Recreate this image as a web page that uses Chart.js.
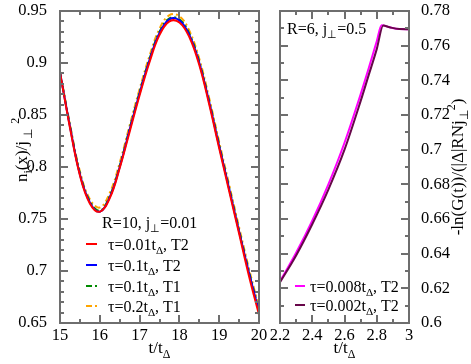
<!DOCTYPE html>
<html>
<head>
<meta charset="UTF-8">
<title>n_i(x) and -ln G(t)</title>
<script src="https://cdn.jsdelivr.net/npm/chart.js@4.4.0/dist/chart.umd.min.js"></script>
<style>
    html, body { margin: 0; padding: 0; background: #fff; }
    #wrap { position: relative; width: 471px; height: 364px; }
    #left { position: absolute; left: 0; top: 0; }
    #right { position: absolute; left: 270px; top: 0; }
</style>
</head>
<body>
<div id="wrap">
    <canvas id="left" width="270" height="364"></canvas>
    <canvas id="right" width="201" height="364"></canvas>
</div>
<script>
// left panel, R=10, j=0.01
var tLeft = [15, 15.25, 15.5, 15.75, 16, 16.25, 16.5, 16.75, 17, 17.25, 17.5, 17.75, 18, 18.25, 18.5, 18.75, 19, 19.25, 19.5, 19.75, 20];
var nTau001T2 = [0.891, 0.838, 0.792, 0.765, 0.757, 0.770, 0.799, 0.834, 0.869, 0.901, 0.927, 0.940, 0.939, 0.925, 0.898, 0.860, 0.818, 0.777, 0.736, 0.695, 0.658];
var nTau01T2  = [0.891, 0.839, 0.793, 0.766, 0.757, 0.771, 0.800, 0.836, 0.871, 0.903, 0.929, 0.942, 0.941, 0.927, 0.900, 0.862, 0.820, 0.779, 0.738, 0.698, 0.661];
var nTau01T1  = [0.891, 0.840, 0.794, 0.767, 0.758, 0.772, 0.801, 0.837, 0.872, 0.904, 0.930, 0.943, 0.942, 0.928, 0.901, 0.863, 0.821, 0.780, 0.739, 0.699, 0.662];
var nTau02T1  = [0.892, 0.841, 0.796, 0.769, 0.761, 0.775, 0.804, 0.840, 0.875, 0.907, 0.933, 0.946, 0.945, 0.931, 0.904, 0.866, 0.824, 0.783, 0.742, 0.702, 0.665];

// right panel, R=6, j=0.5
var tRight008 = [2.2, 2.3, 2.4, 2.5, 2.6, 2.7, 2.75, 2.8, 2.83, 2.88, 2.94, 3.0];
var gTau0008  = [0.624, 0.6405, 0.659, 0.680, 0.704, 0.732, 0.747, 0.7625, 0.7718, 0.7706, 0.7696, 0.7695];
var tRight002 = [2.2, 2.3, 2.4, 2.5, 2.6, 2.7, 2.75, 2.8, 2.84, 2.88, 2.94, 3.0];
var gTau0002  = [0.6235, 0.639, 0.657, 0.677, 0.700, 0.728, 0.743, 0.758, 0.7716, 0.7706, 0.7696, 0.7695];

var SERIF = "'Liberation Serif', 'Times New Roman', serif";
var TEXT_SIZE = 17;
var LEG_SIZE = 16;

Chart.defaults.font.family = SERIF;
Chart.defaults.font.size = 16.5;
Chart.defaults.color = '#000';

function pts(xs, ys) {
    return xs.map(function (x, i) { return { x: x, y: ys[i] }; });
}
function fmt(v) { return String(Math.round(v * 1000) / 1000); }

// text pieces: 0 normal, 1 subscript, 2 superscript
function partFont(kind, size) { return (kind ? size * 0.7 : size) + 'px ' + SERIF; }
function richWidth(ctx, parts, size) {
    var w = 0;
    parts.forEach(function (p) {
        ctx.font = partFont(p[1], size);
        w += ctx.measureText(p[0]).width;
    });
    return w;
}
function drawRich(ctx, parts, x, y, size) {
    var cx = x;
    ctx.textAlign = 'left';
    ctx.textBaseline = 'alphabetic';
    ctx.fillStyle = '#000';
    parts.forEach(function (p) {
        ctx.font = partFont(p[1], size);
        var dy = p[1] === 1 ? size * 0.3 : (p[1] === 2 ? -size * 0.45 : 0);
        ctx.fillText(p[0], cx, y + dy);
        cx += ctx.measureText(p[0]).width;
    });
}
function drawRichCentered(ctx, parts, cx, y, size) {
    drawRich(ctx, parts, cx - richWidth(ctx, parts, size) / 2, y, size);
}
function drawRichVertical(ctx, parts, x, cy, size) {
    ctx.save();
    ctx.translate(x, cy);
    ctx.rotate(-Math.PI / 2);
    drawRich(ctx, parts, -richWidth(ctx, parts, size) / 2, 0, size);
    ctx.restore();
}
function legendEntry(ctx, ds, x0, x1, y, textX, parts) {
    ctx.save();
    ctx.strokeStyle = ds.borderColor;
    ctx.lineWidth = ds.borderWidth;
    ctx.setLineDash(ds.borderDash || []);
    ctx.beginPath();
    ctx.moveTo(x0, y);
    ctx.lineTo(x1, y);
    ctx.stroke();
    ctx.restore();
    drawRich(ctx, parts, textX, y + 5.5, LEG_SIZE);
}

// frame with inward ticks on all four sides
var framePlugin = {
    id: 'frame',
    afterDraw: function (chart, args, opts) {
        var ctx = chart.ctx, a = chart.chartArea;
        var xs = chart.scales.x, ys = chart.scales.y;
        ctx.save();
        ctx.strokeStyle = '#6e6e6e';
        ctx.lineWidth = 2;
        ctx.beginPath();
        function xTick(v, len) {
            var p = Math.round(xs.getPixelForValue(v));
            ctx.moveTo(p, a.bottom); ctx.lineTo(p, a.bottom - len);
            ctx.moveTo(p, a.top); ctx.lineTo(p, a.top + len);
        }
        function yTick(v, len) {
            var p = Math.round(ys.getPixelForValue(v));
            ctx.moveTo(a.left, p); ctx.lineTo(a.left + len, p);
            ctx.moveTo(a.right, p); ctx.lineTo(a.right - len, p);
        }
        var i, n;
        n = Math.round((xs.max - xs.min) / opts.xMinor);
        for (i = 0; i <= n; i++) xTick(xs.min + i * opts.xMinor, 4);
        n = Math.round((ys.max - ys.min) / opts.yMinor);
        for (i = 0; i <= n; i++) yTick(ys.min + i * opts.yMinor, 4);
        xs.ticks.forEach(function (t) { xTick(t.value, 8); });
        ys.ticks.forEach(function (t) { yTick(t.value, 8); });
        ctx.stroke();
        ctx.strokeRect(a.left, a.top, a.right - a.left, a.bottom - a.top);
        ctx.restore();
    }
};

function fixW(w) { return function (s) { s.width = w; s.paddingTop = 0; s.paddingBottom = 0; }; }
function fixH(h) { return function (s) { s.height = h; s.paddingLeft = 0; s.paddingRight = 0; }; }

function lineSet(xs, ys, color, dash) {
    return {
        data: pts(xs, ys),
        borderColor: color,
        borderWidth: 2,
        borderDash: dash,
        pointRadius: 0,
        tension: 0.4,
        fill: false
    };
}

var leftSets = [
    lineSet(tLeft, nTau001T2, '#ff0000', []),
    lineSet(tLeft, nTau01T2, '#0000ff', []),
    lineSet(tLeft, nTau01T1, '#008b00', [6, 3, 2, 3]),
    lineSet(tLeft, nTau02T1, '#ffa500', [6, 3, 2, 3])
];

new Chart(document.getElementById('left'), {
    type: 'line',
    data: { datasets: leftSets },
    options: {
        responsive: false,
        animation: false,
        devicePixelRatio: 1,
        layout: { padding: { left: 0, top: 11, right: 11, bottom: 0 } },
        plugins: {
            legend: { display: false },
            tooltip: { enabled: false },
            frame: { xMinor: 0.5, yMinor: 0.01 }
        },
        scales: {
            x: {
                type: 'linear', min: 15, max: 20,
                grid: { display: false }, border: { display: false },
                ticks: { stepSize: 1, padding: -5, maxRotation: 0, autoSkip: false, callback: fmt },
                afterFit: fixH(41)
            },
            y: {
                type: 'linear', min: 0.65, max: 0.95,
                grid: { display: false }, border: { display: false },
                ticks: { stepSize: 0.05, padding: 5, autoSkip: false, callback: fmt },
                afterFit: fixW(60)
            }
        }
    },
    plugins: [framePlugin, {
        id: 'leftText',
        afterDraw: function (chart) {
            var ctx = chart.ctx;
            drawRichCentered(ctx, [['t/t', 0], ['\u0394', 1]], 159.5, 353, TEXT_SIZE);
            drawRichVertical(ctx, [['n', 0], ['i', 1], ['(x)/j', 0], ['\u2009\u22A5', 1], ['\u2009\u20092', 2]], 27, 150, TEXT_SIZE);
            drawRich(ctx, [['R=10, j', 0], ['\u22A5', 1], ['=0.01', 0]], 102, 227.5, LEG_SIZE);
            var ds = chart.data.datasets;
            legendEntry(ctx, ds[0], 86, 97, 244, 108, [['\u03C4=0.01t', 0], ['\u0394', 1], [', T2', 0]]);
            legendEntry(ctx, ds[1], 86, 97, 265, 108, [['\u03C4=0.1t', 0], ['\u0394', 1], [', T2', 0]]);
            legendEntry(ctx, ds[2], 86, 97, 286, 108, [['\u03C4=0.1t', 0], ['\u0394', 1], [', T1', 0]]);
            legendEntry(ctx, ds[3], 86, 97, 306, 108, [['\u03C4=0.2t', 0], ['\u0394', 1], [', T1', 0]]);
        }
    }]
});

var rightSets = [
    lineSet(tRight002, gTau0002, '#67074a', []),
    lineSet(tRight008, gTau0008, '#ff00ff', [])
];
rightSets.forEach(function (d) { d.tension = 0; d.cubicInterpolationMode = 'monotone'; });

new Chart(document.getElementById('right'), {
    type: 'line',
    data: { datasets: rightSets },
    options: {
        responsive: false,
        animation: false,
        devicePixelRatio: 1,
        layout: { padding: { left: 10, top: 11, right: 0, bottom: 0 } },
        plugins: {
            legend: { display: false },
            tooltip: { enabled: false },
            frame: { xMinor: 0.1, yMinor: 0.01 }
        },
        scales: {
            x: {
                type: 'linear', min: 2.2, max: 3,
                grid: { display: false }, border: { display: false },
                ticks: { stepSize: 0.2, padding: -5, maxRotation: 0, autoSkip: false, callback: fmt },
                afterFit: fixH(41)
            },
            y: {
                type: 'linear', position: 'right', min: 0.6, max: 0.78,
                grid: { display: false }, border: { display: false },
                ticks: { stepSize: 0.02, padding: 4, autoSkip: false, callback: fmt },
                afterFit: fixW(62)
            }
        }
    },
    plugins: [framePlugin, {
        id: 'rightText',
        afterDraw: function (chart) {
            var ctx = chart.ctx;
            drawRichCentered(ctx, [['t/t', 0], ['\u0394', 1]], 74.5, 353, TEXT_SIZE);
            drawRichVertical(ctx, [['-ln(G(t))/(|\u0394|RNj', 0], ['\u22A5', 1], ['2', 2], [')', 0]], 193, 167, TEXT_SIZE);
            drawRich(ctx, [['R=6, j', 0], ['\u22A5', 1], ['=0.5', 0]], 17, 33.5, LEG_SIZE);
            var ds = chart.data.datasets;
            legendEntry(ctx, ds[1], 25, 35, 286, 40, [['\u03C4=0.008t', 0], ['\u0394', 1], [', T2', 0]]);
            legendEntry(ctx, ds[0], 25, 35, 305, 40, [['\u03C4=0.002t', 0], ['\u0394', 1], [', T2', 0]]);
        }
    }]
});
</script>
</body>
</html>
